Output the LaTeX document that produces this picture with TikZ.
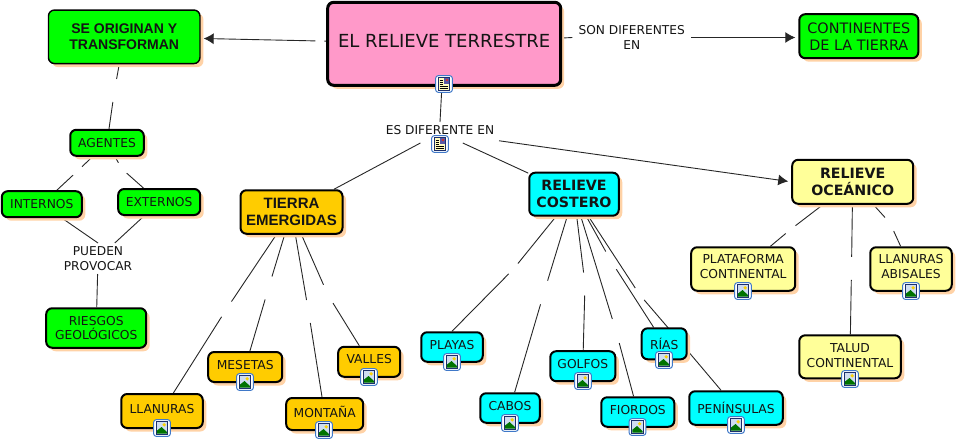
\documentclass[tikz,border=0pt]{standalone}
\usepackage{fontspec}
\setmainfont{DejaVu Sans}
\newfontfamily\arialfont{Liberation Sans}
\usetikzlibrary{shadows,backgrounds,arrows.meta}
\definecolor{boxgreen}{HTML}{00FF00}
\definecolor{boxpink}{HTML}{FF99C9}
\definecolor{boxorange}{HTML}{FFCC00}
\definecolor{boxcyan}{HTML}{00FFFF}
\definecolor{boxpale}{HTML}{FFFF99}
\definecolor{boxshadow}{HTML}{FFD2A6}
\definecolor{inktext}{HTML}{141414}
\definecolor{iconblue}{HTML}{3F78C8}
\definecolor{iconnavy}{HTML}{1C2F6B}
\tikzset{
    cbox/.style={draw=black, line width=2pt, rounded corners=6pt, inner sep=0pt, align=center,
        text=inktext, font=\fontsize{12.3}{14.5}\selectfont,
        general shadow={shadow xshift=3.5pt, shadow yshift=-3.5pt, fill=boxshadow, draw=none}},
    iconbox/.style={text depth=5pt},
    bigtext/.style={font=\fontsize{14.4}{17}\selectfont},
    arialtitle/.style={font=\fontsize{14}{16.5}\selectfont\arialfont\bfseries},
    boldtitle/.style={font=\fontsize{14.2}{17}\selectfont\bfseries},
    linktext/.style={align=center, inner sep=0pt, outer sep=0pt, text=inktext, font=\fontsize{12.2}{14.5}\selectfont},
    gapnode/.style={inner sep=0pt, outer sep=0pt},
    conn/.style={draw=black!85, line width=0.9pt},
    connarrow/.style={conn, shorten >=3pt, -{Latex[length=10pt,width=11pt]}},
    imgicon/.pic={
        \draw[iconblue, fill=white, line width=1pt, rounded corners=2.5pt] (-8.3,-8.3) rectangle (8.3,8.3);
        \fill[iconnavy] (-6.3,-6.8) rectangle (6.3,6.8);
        \fill[white!75!iconblue] (-5.2,-5.7) rectangle (5.2,5.7);
        \fill[yellow!70!orange] (2.2,-3.2) circle (1.8);
        \fill[green!45!black] (-5.2,5.7) -- (-5.2,2.8) -- (-0.5,-1) -- (5.2,4.2) -- (5.2,5.7) -- cycle;
    },
    docicon/.pic={
        \draw[iconblue, fill=white, line width=1pt, rounded corners=2.5pt] (-8.3,-8.3) rectangle (8.3,8.3);
        \fill[iconnavy] (-6.3,-6.8) rectangle (6.3,6.8);
        \fill[yellow!25] (-5.3,-5.8) rectangle (5.3,5.8);
        \fill[gray!70!blue] (0,-5.8) rectangle (5.3,0);
        \fill[red!60!gray] (1.5,-4.8) rectangle (3.7,-2.6);
        \foreach \ly in {-4,-2,0} { \draw[black, line width=0.7pt] (-4.3,\ly) -- (-1,\ly); }
        \foreach \ly in {2,4} { \draw[black, line width=0.7pt] (-4.3,\ly) -- (4.3,\ly); }
    },
}
\begin{document}
\begin{tikzpicture}[x=1pt, y=-1pt]
    \useasboundingbox (0,0) rectangle (958,442);

    % top row
    \node[cbox, iconbox, fill=boxpink, line width=3pt, font=\fontsize{18}{21}\selectfont, minimum width=233, minimum height=83] (main) at (444.2,43.8) {EL RELIEVE TERRESTRE};
    \node[cbox, arialtitle, fill=boxgreen, line width=1.4pt, minimum width=151.5, minimum height=53.5] (seorigin) at (124.2,36.8) {SE ORIGINAN Y\\TRANSFORMAN};
    \node[cbox, bigtext, fill=boxgreen, minimum width=119, minimum height=44] (continentes) at (858.8,36.2) {CONTINENTES\\DE LA TIERRA};
    \node[linktext, minimum width=118.7, minimum height=30] (son) at (631.7,37.5) {SON DIFERENTES\\EN};
    \node[linktext, minimum width=118, text height=9pt, text depth=6pt, inner ysep=3pt] (es) at (440,132.5) {ES DIFERENTE EN};

    % left branch
    \node[cbox, fill=boxgreen, minimum width=73.5, minimum height=26] (agentes) at (107,142.8) {AGENTES};
    \node[cbox, fill=boxgreen, minimum width=80, minimum height=26] (internos) at (41.8,204.2) {INTERNOS};
    \node[cbox, fill=boxgreen, minimum width=82, minimum height=26] (externos) at (159.2,202) {EXTERNOS};
    \node[linktext, minimum width=70, minimum height=31] (pueden) at (98,258.5) {PUEDEN\\PROVOCAR};
    \node[cbox, fill=boxgreen, minimum width=100, minimum height=39.5] (riesgos) at (96.2,328) {RIESGOS\\GEOLÓGICOS};

    % tierra
    \node[cbox, arialtitle, font=\fontsize{15}{17}\selectfont\arialfont\bfseries, fill=boxorange, minimum width=102, minimum height=43.5] (tierra) at (291.5,212) {TIERRA\\EMERGIDAS};
    \node[cbox, iconbox, fill=boxorange, minimum width=81.5, minimum height=34] (llanuras) at (162,411) {LLANURAS};
    \node[cbox, iconbox, fill=boxorange, minimum width=74, minimum height=30] (mesetas) at (245.2,367) {MESETAS};
    \node[cbox, iconbox, fill=boxorange, minimum width=77, minimum height=32] (montana) at (324.7,414) {MONTAÑA};
    \node[cbox, iconbox, fill=boxorange, minimum width=62, minimum height=30] (valles) at (369.2,361.8) {VALLES};

    % costero
    \node[cbox, boldtitle, fill=boxcyan, minimum width=89.5, minimum height=43] (costero) at (574,194.2) {RELIEVE\\COSTERO};
    \node[cbox, iconbox, fill=boxcyan, minimum width=61.5, minimum height=29.5] (playas) at (452,347) {PLAYAS};
    \node[cbox, iconbox, fill=boxcyan, minimum width=59.5, minimum height=29.5] (cabos) at (510,408) {CABOS};
    \node[cbox, iconbox, fill=boxcyan, minimum width=65, minimum height=30] (golfos) at (582.8,366.2) {GOLFOS};
    \node[cbox, iconbox, fill=boxcyan, minimum width=73, minimum height=29.5] (fiordos) at (637.8,412) {FIORDOS};
    \node[cbox, fill=boxcyan, minimum width=45, minimum height=31] (rias) at (664.2,343.8) {RÍAS};
    \node[cbox, fill=boxcyan, minimum width=93.5, minimum height=33.5] (peninsulas) at (736,408) {PENÍNSULAS};

    % oceanico
    \node[cbox, boldtitle, fill=boxpale, minimum width=121, minimum height=44] (oceanico) at (852.7,181.8) {RELIEVE\\OCEÁNICO};
    \node[cbox, iconbox, fill=boxpale, minimum width=104, minimum height=43.5] (plataforma) at (743.2,269) {PLATAFORMA\\CONTINENTAL};
    \node[cbox, iconbox, fill=boxpale, minimum width=81.5, minimum height=43.5] (abisales) at (911,269) {LLANURAS\\ABISALES};
    \node[cbox, text depth=3pt, fill=boxpale, minimum width=101.5, minimum height=43] (talud) at (850,356.8) {TALUD\\CONTINENTAL};

    % breaks in the connectors
    \foreach \gname/\gx/\gy/\gw/\gh in {
        gmain/319.8/41/9/6, gagentes/114.5/90.5/10/23, ginternos/77.5/171/9/10, gexternos/122/169/9.5/12.5,
        gllanuras/226.5/309/10/15.5, gmesetas/268.5/288/10/23, gmontana/308.5/311.5/10/23, gvalles/328/295/10/20.5,
        gplayas/513.5/269/9.6/11, gcabos/544/292.5/10/23.6, ggolfos/585/284/10/23, gfiordos/616/331/10/24,
        griasa/611/261/10.6/19, griasb/639.5/294.5/9.3/13,
        gplataforma/790.5/229.5/10/8, gtalud/851.5/268.3/10/23, gabisales/890/223/10/16} {
        \node[gapnode, minimum width=\gw, minimum height=\gh] (\gname) at (\gx,\gy) {};
    }
    \coordinate (riasend) at (676,337);

    \begin{scope}[on background layer]
        \foreach \mfrom/\mvia/\mto in {
            seorigin/gagentes/agentes, agentes/ginternos/internos, agentes/gexternos/externos,
            tierra/gllanuras/llanuras, tierra/gmesetas/mesetas, tierra/gmontana/montana, tierra/gvalles/valles,
            costero/gplayas/playas.north, costero/gcabos/cabos, costero/ggolfos/golfos, costero/gfiordos/fiordos,
            costero/griasa/rias, costero/griasb/riasend,
            oceanico/gplataforma/plataforma, oceanico/gtalud/talud, oceanico/gabisales/abisales} {
            \draw[conn] (\mfrom) -- (\mvia);
            \draw[conn] (\mvia) -- (\mto);
        }
        \foreach \mfrom/\mto in {
            main/gmain, main/son.west, main/es.north, es/tierra, es/costero,
            internos/pueden.north, externos/pueden, pueden/riesgos, riasend/peninsulas} {
            \draw[conn] (\mfrom) -- (\mto);
        }
        \draw[connarrow] (gmain) -- (seorigin);
        \draw[connarrow] (son.east) -- (son.east -| continentes.west);
        \draw[connarrow] (es) -- (oceanico.west);
    \end{scope}

    % icons on the boxes
    \pic at (444,84) {docicon};
    \pic at (440,144) {docicon};
    \foreach \ix/\iy in {162/428, 245/382, 324/430, 369/377, 452/362, 510/423, 583/381, 637.5/427, 664/360, 736/425, 743/291, 911/291, 850/379} {
        \pic at (\ix,\iy) {imgicon};
    }
\end{tikzpicture}
\end{document}
